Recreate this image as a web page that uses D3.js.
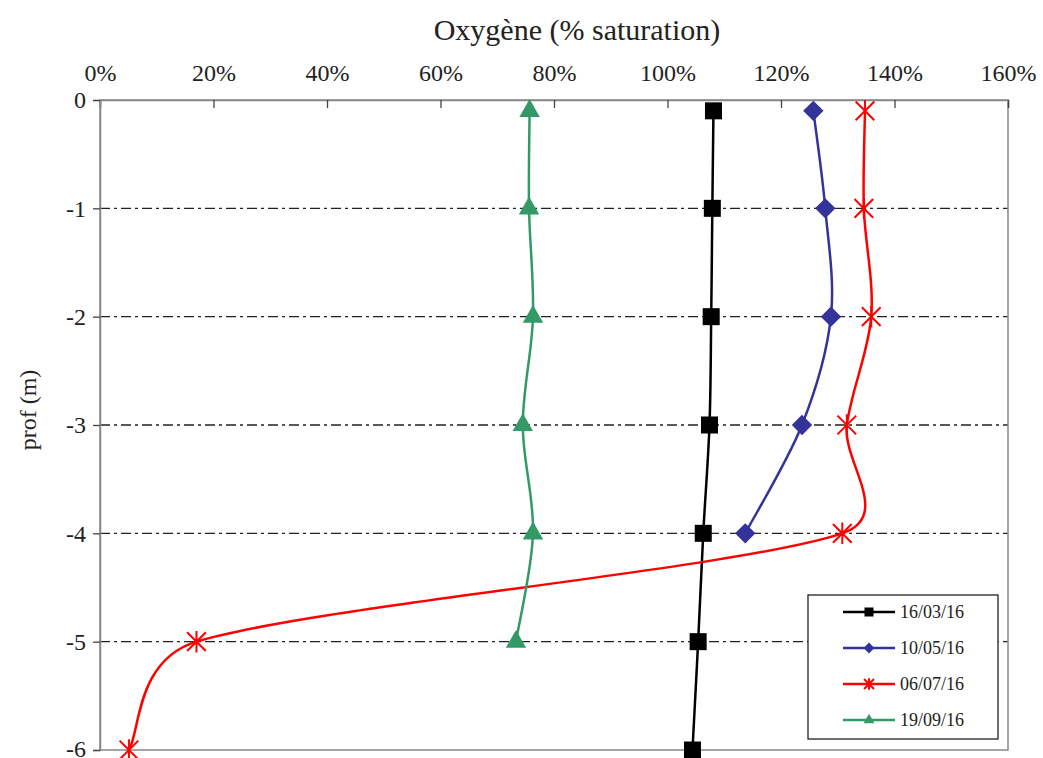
<!DOCTYPE html>
<html>
<head>
<meta charset="utf-8">
<script src="https://cdn.jsdelivr.net/npm/d3@7"></script>
<style>
  body { margin: 0; background: #fff; }
  #chart text { font-family: 'Liberation Serif', 'Times New Roman', Times, 'DejaVu Serif', serif !important; }
</style>
</head>
<body>
<svg id="chart" width="1043" height="758"></svg>
<script>
// depths (m) and oxygen saturation (fraction)
const depths = [-0.1, -1, -2, -3, -4, -5, -6];
const s160316 = [1.081, 1.079, 1.077, 1.074, 1.063, 1.054, 1.044];
const s100516 = [1.257, 1.278, 1.288, 1.237, 1.137];
const s060716 = [1.348, 1.346, 1.359, 1.316, 1.308, 0.170, 0.051];
const s190916 = [0.757, 0.756, 0.763, 0.745, 0.763, 0.733];
const xTicks = [0, 0.2, 0.4, 0.6, 0.8, 1.0, 1.2, 1.4, 1.6];
const yTicks = [0, -1, -2, -3, -4, -5, -6];

const series = [
  { name: '16/03/16', values: s160316, color: '#000000', marker: 'square' },
  { name: '10/05/16', values: s100516, color: '#333399', marker: 'diamond' },
  { name: '06/07/16', values: s060716, color: '#ff0000', marker: 'star' },
  { name: '19/09/16', values: s190916, color: '#339966', marker: 'triangle' }
];

const svg = d3.select('#chart');
const margin = { left: 100, top: 100, right: 35, bottom: 6 };
const W = 1043, H = 758;
const x = d3.scaleLinear().domain([0, 1.6]).range([margin.left, W - margin.right]);
const y = d3.scaleLinear().domain([0, -6]).range([margin.top, H - margin.bottom - 2]);

// dash-dot gridlines
svg.append('g')
  .selectAll('line')
  .data(yTicks.filter(d => d !== 0 && d !== -6))
  .join('line')
  .attr('x1', x(0)).attr('x2', x(1.6))
  .attr('y1', d => y(d)).attr('y2', d => y(d))
  .attr('stroke', '#222')
  .attr('stroke-width', 1.3)
  .attr('stroke-dasharray', '10,4,3,4');

// plot frame
svg.append('rect')
  .attr('x', x(0)).attr('y', y(0))
  .attr('width', x(1.6) - x(0)).attr('height', y(-6) - y(0))
  .attr('fill', 'none')
  .attr('stroke', '#888')
  .attr('stroke-width', 1.5);

// top axis, ticks inside
const xAxis = svg.append('g')
  .attr('transform', `translate(0,${y(0)})`)
  .call(d3.axisTop(x).tickValues(xTicks).tickSize(-8).tickPadding(19)
    .tickFormat(d => Math.round(d * 100) + '%'));
xAxis.select('.domain').attr('stroke', '#888').attr('stroke-width', 1.5);
xAxis.selectAll('.tick line').attr('stroke', '#444').attr('stroke-width', 1.3);
xAxis.selectAll('.tick text').style('font-size', '24px').attr('fill', '#222');

// left axis
const yAxis = svg.append('g')
  .attr('transform', `translate(${x(0)},0)`)
  .call(d3.axisLeft(y).tickValues(yTicks).tickSize(7).tickPadding(7).tickFormat(d => String(d)));
yAxis.select('.domain').attr('stroke', '#888').attr('stroke-width', 1.5);
yAxis.selectAll('.tick line').attr('stroke', '#444').attr('stroke-width', 1.3);
yAxis.selectAll('.tick text').style('font-size', '24px').attr('fill', '#222')
  .attr('dy', d => d === -6 ? '0.25em' : '0.32em');

// titles
svg.append('text')
  .attr('x', 577).attr('y', 40)
  .attr('text-anchor', 'middle')
  .style('font-size', '30px')
  .attr('fill', '#222')
  .text('Oxygène (% saturation)');

svg.append('text')
  .attr('transform', `translate(36,${(y(0) + y(-6)) / 2 - 15}) rotate(-90)`)
  .attr('text-anchor', 'middle')
  .style('font-size', '24px')
  .attr('fill', '#222')
  .text('prof (m)');

// marker drawing
function drawMarker(g, type, color, s) {
  if (type === 'square') {
    g.append('rect').attr('x', -s / 2).attr('y', -s / 2).attr('width', s).attr('height', s).attr('fill', color);
  } else if (type === 'diamond') {
    const h = s * 0.6;
    g.append('path').attr('d', `M0,${-h}L${h},0L0,${h}L${-h},0Z`).attr('fill', color);
  } else if (type === 'triangle') {
    const h = s * 0.6;
    g.append('path').attr('d', `M0,${-h * 1.15}L${h},${h * 0.6}L${-h},${h * 0.6}Z`).attr('fill', color);
  } else if (type === 'star') {
    const h = s * 0.55;
    g.append('path')
      .attr('d', `M${-h},${-h}L${h},${h}M${-h},${h}L${h},${-h}M0,${-h * 1.15}L0,${h * 1.15}`)
      .attr('stroke', color).attr('stroke-width', 2).attr('fill', 'none');
  }
}

// spreadsheet-style smoothing: bezier with 1/6 tangents, clamped to half of each segment
function smoothPath(pts) {
  const n = pts.length;
  const tan = pts.map((p, i) => {
    const a = pts[Math.max(i - 1, 0)], b = pts[Math.min(i + 1, n - 1)];
    return [(b[0] - a[0]) / 6, (b[1] - a[1]) / 6];
  });
  const clamp = (t, len) => {
    const l = Math.hypot(t[0], t[1]);
    const k = l > len / 2 ? (len / 2) / l : 1;
    return [t[0] * k, t[1] * k];
  };
  let d = `M${pts[0][0]},${pts[0][1]}`;
  for (let i = 0; i < n - 1; i++) {
    const p0 = pts[i], p1 = pts[i + 1];
    const len = Math.hypot(p1[0] - p0[0], p1[1] - p0[1]);
    const t0 = clamp(tan[i], len), t1 = clamp(tan[i + 1], len);
    d += `C${p0[0] + t0[0]},${p0[1] + t0[1]} ${p1[0] - t1[0]},${p1[1] - t1[1]} ${p1[0]},${p1[1]}`;
  }
  return d;
}

series.forEach(s => {
  const pts = s.values.map((v, i) => [x(v), y(depths[i])]);
  svg.append('path')
    .attr('d', smoothPath(pts))
    .attr('fill', 'none')
    .attr('stroke', s.color)
    .attr('stroke-width', 2.5);
  pts.forEach(p => {
    const g = svg.append('g').attr('transform', `translate(${p[0]},${p[1]})`);
    drawMarker(g, s.marker, s.color, 17);
  });
});

// legend
const legend = svg.append('g').attr('class', 'legend');
legend.append('rect')
  .attr('x', 808).attr('y', 595).attr('width', 190).attr('height', 144)
  .attr('fill', '#fff').attr('stroke', '#222').attr('stroke-width', 1.3);

legend.selectAll('g.legend-item')
  .data(series)
  .join('g')
  .attr('class', 'legend-item')
  .attr('transform', (d, i) => `translate(843,${612 + i * 36})`)
  .each(function(s) {
    const item = d3.select(this);
    item.append('line').attr('x1', 0).attr('x2', 52).attr('y1', 0).attr('y2', 0)
      .attr('stroke', s.color).attr('stroke-width', 2.5);
    const m = item.append('g').attr('transform', 'translate(26,0)');
    drawMarker(m, s.marker, s.color, 9);
    item.append('text')
      .attr('x', 57).attr('y', 6)
      .style('font-size', '18px')
      .attr('fill', '#222')
      .text(s.name);
  });
</script>
</body>
</html>
